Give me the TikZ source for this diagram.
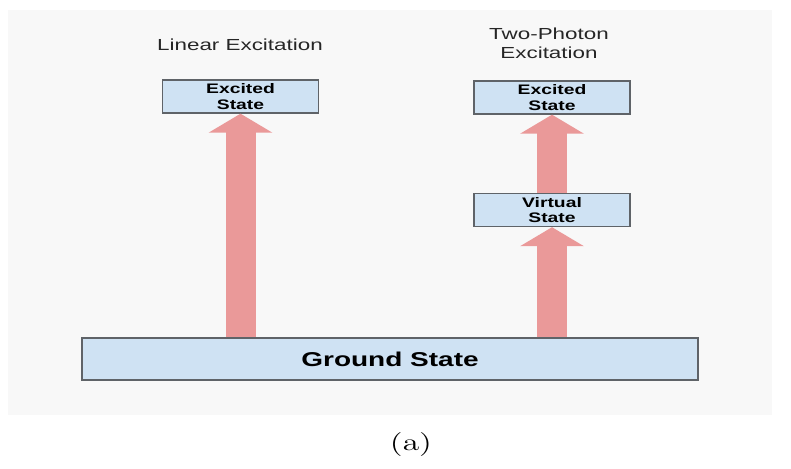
\documentclass[tikz,border=0pt]{standalone}
\usepackage{fontspec}
\usetikzlibrary{arrows.meta}
\newfontfamily\diagfont[FakeStretch=1.4]{Liberation Sans}
\newfontfamily\capfont{lmroman12-regular.otf}[FakeStretch=1.4]
\definecolor{statefill}{HTML}{CFE2F3}
\definecolor{stateline}{HTML}{5F6368}
\definecolor{pumpred}{HTML}{EA9999}
\definecolor{checker}{HTML}{F8F8F8}
\definecolor{darktext}{HTML}{262626}

\begin{document}
\begin{tikzpicture}[
  x=0.5pt, y=-0.5pt,
  title/.style={font=\diagfont\fontsize{8}{9.5}\selectfont, text=darktext, align=center},
  box/.style={draw=stateline, fill=statefill, line width=0.7pt, minimum width=78pt, minimum height=16.5pt, inner sep=0pt, align=center, font=\diagfont\bfseries\fontsize{6.9}{7.8}\selectfont},
  pump/.style={draw=pumpred, line width=15pt, -{Triangle[width=31.5pt, length=9.5pt]}}
]
\useasboundingbox (0,0) rectangle (791,469);
\fill[checker] (8,10) rectangle (772,415);

% titles
\node[title] (lintitle) at (240,45) {Linear Excitation};
\node[title] (tpetitle) at (549,43) {Two-Photon\\Excitation};

% energy levels
\node[box] (exc1) at (240.5,96.5) {Excited\\State};
\node[box] (exc2) at (552,97.5) {Excited\\State};
\node[box] (virt) at (552,210) {Virtual\\State};
\node[box, minimum width=308pt, minimum height=21pt, font=\diagfont\bfseries\fontsize{10}{12}\selectfont] (ground) at (390,359) {Ground State};

% excitation arrows
\draw[pump] (exc1.south |- ground.north) -- (exc1.south);
\draw[pump] (virt.south |- ground.north) -- (virt.south);
\draw[pump] (virt.north) -- (exc2.south);

\node[font=\capfont\fontsize{12}{14}\selectfont] (caption) at (411,445) {(a)};
\end{tikzpicture}
\end{document}
